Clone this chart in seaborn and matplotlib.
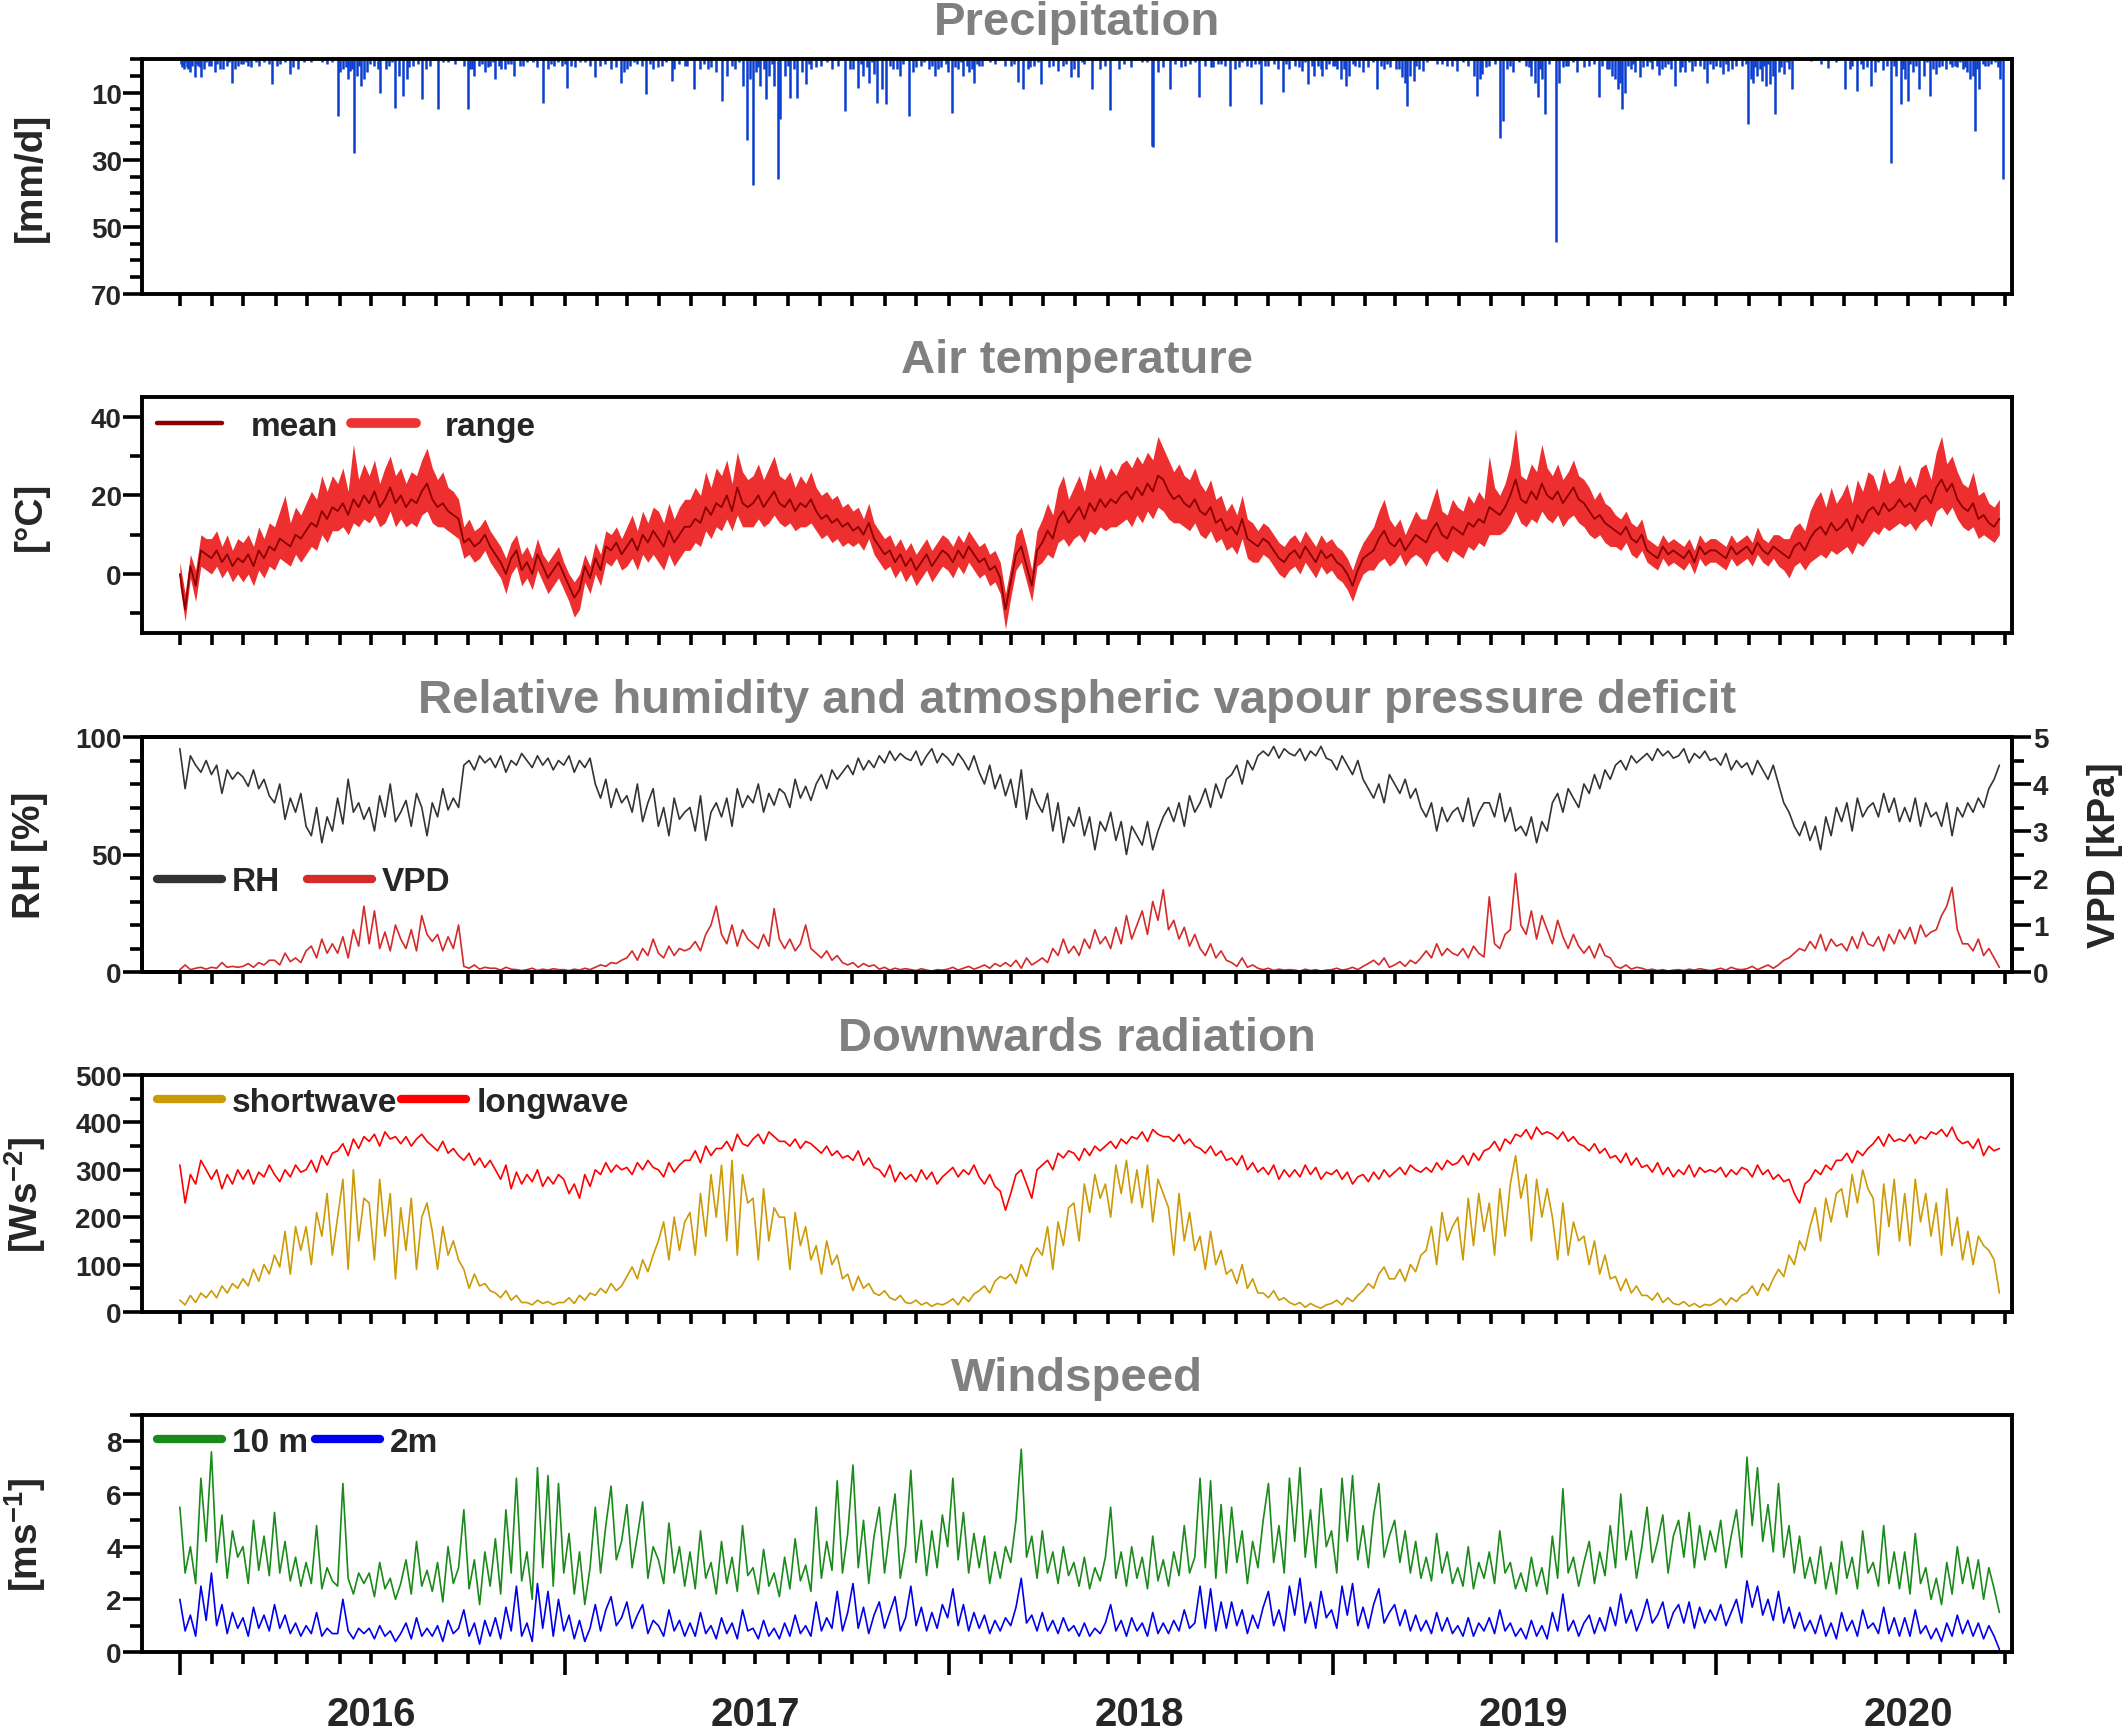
import numpy as np
import pandas as pd
import matplotlib
matplotlib.use("Agg")
import matplotlib.pyplot as plt
import matplotlib.dates as mdates
from matplotlib.lines import Line2D
from matplotlib.ticker import FixedLocator, MultipleLocator, NullFormatter
import seaborn as sns

# ---------------- data (5-day samples from 2016-01-01) ----------------
t_mean = [0,-9,2,-3,6,5, 4,6,3,5,2,4, 3,5,2,6,4,7, 6,9,8,7,10,9, 11,13,12,16,14,17, 16,18,15,19,17,20, 18,21,17,19,22,18, 20,17,19,18,21,23, 19,17,18,16,15,14, 8,9,7,8,10,7, 5,3,0,4,6,1, 3,0,5,2,-1,1,3,
          0,-3,-6,-4,2,-1, 4,1,7,6,8,5, 7,9,6,10,8,11, 9,7,11,8,10,12, 12,14,13,17,15,18, 17,20,16,22,18,17, 18,20,17,19,21,18, 17,19,16,18,17,19, 16,14,15,13,14,12, 13,11,12,10,13,9, 7,5,6,3,5,2, 4,1,3,5,2,4,6,
          5,3,6,4,7,5, 3,4,1,2,-1,-9, -2,5,7,2,-3,6, 8,11,9,14,16,13, 15,17,14,18,16,19, 17,19,18,20,21,19, 22,20,23,21,25,24, 21,19,20,18,17,19, 16,15,17,13,14,11, 12,10,14,9,8,7, 9,8,6,4,3,5, 6,4,7,5,3,6,4,
          5,3,2,0,-3,1, 4,5,6,9,11,8, 7,9,6,8,10,9, 8,11,13,10,9,12, 11,10,13,12,14,13, 17,16,15,17,20,24, 19,18,21,19,23,20, 19,21,18,20,22,19, 18,16,14,15,13,12, 11,10,12,9,8,10, 6,5,4,7,5,6, 5,4,6,3,7,5,6,
          6,5,4,7,5,6, 7,5,8,6,5,7, 6,5,4,7,8,6, 9,11,12,10,13,11, 12,14,11,15,13,16, 17,15,18,16,17,19, 17,18,16,19,20,18, 22,24,21,23,19,17, 16,18,14,15,13,12,14]
t_high = [3,-5,5,1,10,9, 9,11,7,10,6,9, 8,10,7,12,9,13, 12,16,20,13,17,15, 18,21,19,25,21,25, 23,27,21,33,24,28, 25,29,23,27,30,25, 27,23,26,25,29,32, 27,24,26,22,21,19, 12,14,11,12,14,11, 9,7,4,8,10,5, 7,4,9,5,3,5,7,
          3,0,-2,0,5,2, 8,5,11,10,12,9, 12,15,11,16,13,17, 16,13,18,14,17,19, 19,22,20,26,22,27, 25,29,23,31,26,24, 25,28,24,27,30,25, 24,26,22,25,23,26, 22,20,21,19,20,17, 18,16,17,14,18,13, 11,9,10,7,9,6, 8,5,7,9,6,8,10,
          9,7,10,8,11,9, 7,8,5,6,3,-5, 2,10,12,7,1,11, 14,18,15,22,25,19, 22,25,21,27,24,28, 24,27,25,28,29,27, 30,28,31,29,35,32, 29,26,28,25,24,27, 23,21,24,19,20,16, 18,15,20,14,13,11, 13,12,10,8,7,9, 10,8,11,9,7,10,8,
          9,7,6,4,1,5, 8,10,12,16,19,14, 12,14,10,13,16,14, 14,18,22,16,15,19, 17,16,20,18,21,19, 30,22,20,23,28,37, 25,24,28,26,33,27, 25,28,24,26,29,25, 24,22,19,21,18,17, 15,14,16,13,12,14, 9,8,7,10,8,9, 8,7,9,6,10,8,9,
          9,8,7,10,8,9, 10,8,12,9,8,10, 10,9,9,12,13,11, 16,19,21,17,22,18, 20,23,18,24,21,26, 25,21,27,23,24,28, 23,25,22,27,28,24, 31,35,28,30,26,23, 22,26,20,21,18,17,19]
t_low = [-3,-12,-1,-7,2,1, 0,2,-1,1,-2,0, -2,0,-3,1,-1,2, 1,4,3,2,5,3, 5,7,6,10,8,11, 11,12,10,13,12,14, 13,15,12,13,16,12, 14,12,13,12,15,16, 13,12,12,11,10,9, 4,5,3,4,6,3, 1,-1,-5,0,2,-3, -1,-4,1,-2,-5,-3,-1,
         -4,-7,-11,-9,-2,-5, 0,-3,3,2,4,1, 2,4,1,5,3,5, 3,1,5,2,4,6, 6,8,7,11,9,12, 11,14,11,15,12,12, 12,14,12,13,15,13, 12,13,11,12,12,13, 11,9,10,8,9,7, 8,7,8,6,9,5, 3,1,2,-1,1,-2, 0,-3,-1,1,-2,0,2,
         1,-1,2,0,3,1, -1,0,-3,-2,-5,-14, -6,1,3,-2,-7,2, 3,5,4,8,9,7, 9,10,8,11,10,12, 11,12,12,13,14,12, 15,13,16,14,17,16, 14,13,13,12,11,13, 10,9,11,8,9,6, 7,5,9,4,3,3, 5,4,2,0,-1,1, 2,0,3,1,-1,2,0,
         1,-1,-2,-4,-7,-3, 0,1,1,3,4,2, 3,5,2,4,5,4, 2,5,6,4,3,6, 5,4,7,6,8,7, 10,10,10,11,13,16, 13,12,14,13,16,14, 13,15,12,14,15,13, 12,10,9,10,8,7, 7,6,8,5,4,6, 3,2,1,4,2,3, 2,1,3,0,4,2,3,
         3,2,1,4,2,3, 4,2,5,3,2,4, 2,1,-1,2,3,1, 3,4,5,4,6,5, 6,7,5,8,7,9, 11,10,12,11,12,13, 12,13,11,13,14,12, 16,17,15,17,14,12, 11,12,9,10,9,8,10]

rh = [95,78,92,88,85,90, 84,88,76,86,82,85, 83,79,86,78,82,75, 72,80,65,74,68,76, 62,58,70,55,66,60, 74,63,82,68,72,65, 70,60,75,66,80,64, 68,73,62,76,70,58, 72,66,78,69,74,70, 88,90,86,92,89,91, 87,92,85,90,88,93, 90,87,92,88,91,86,90,
      88,92,85,90,87,91, 80,74,82,70,78,72, 75,68,80,64,72,78, 62,70,58,74,65,68, 70,60,75,56,68,72, 66,74,62,78,70,75, 72,80,68,76,71,78, 76,70,82,74,79,73, 80,84,78,86,82,85, 88,84,91,86,90,87, 92,89,94,90,93,91, 90,94,88,92,95,89,93,
      91,88,93,90,86,92, 85,80,88,78,84,75, 82,70,86,65,78,72, 68,76,60,72,55,66, 62,70,58,66,52,64, 60,68,56,64,50,62, 58,54,64,52,60,66, 70,64,72,62,75,68, 72,78,70,80,74,82, 84,88,80,90,86,92, 94,92,96,91,95,93, 92,95,90,94,92,96,91,
      90,86,92,88,84,90, 82,78,74,80,72,84, 80,76,82,74,78,70, 66,72,60,70,64,68, 70,64,74,62,68,72, 72,66,76,64,70,60, 62,58,66,55,64,60, 72,76,68,78,74,70, 80,76,84,78,86,82, 88,90,86,92,89,91, 93,90,95,92,94,91, 92,95,89,93,91,94,90,
      91,88,93,86,90,87, 89,84,90,86,82,88, 80,72,68,62,58,64, 56,62,52,66,58,70, 64,72,60,74,66,70, 72,66,76,68,74,64, 70,64,74,62,72,66, 68,62,72,58,70,66, 72,68,74,70,78,82,88]

vpd = [.05,.15,.05,.08,.1,.06, .1,.08,.2,.1,.12,.1, .12,.18,.1,.2,.15,.25, .25,.15,.4,.22,.3,.2, .45,.55,.3,.7,.4,.6, .4,.75,.3,.9,.55,1.4, .6,1.3,.5,.85,.45,1.0, .7,.5,.9,.45,1.2,.8, .65,.8,.45,.75,.5,1.0, .12,.08,.15,.06,.1,.08, .08,.04,.1,.06,.05,.03, .05,.08,.03,.06,.04,.07,.05,
       .05,.03,.06,.04,.08,.05, .1,.15,.12,.2,.18,.25, .3,.45,.25,.5,.35,.7, .4,.3,.55,.35,.5,.45, .5,.65,.45,.8,1.0,1.4, .8,.6,1.0,.55,.9,.7, .6,.5,.8,.55,1.35,.7, .5,.7,.45,.6,1.0,.5, .4,.3,.45,.25,.35,.2, .15,.2,.1,.18,.12,.15, .06,.1,.04,.08,.05,.07, .05,.03,.07,.04,.02,.05,.04,
       .06,.1,.04,.08,.12,.06, .1,.15,.08,.18,.12,.2, .12,.25,.08,.3,.15,.22, .3,.2,.5,.35,.7,.4, .55,.35,.7,.5,.9,.6, .75,.5,.95,.6,1.2,.7, 1.0,1.3,.8,1.5,1.1,1.75, .9,1.1,.7,.95,.55,.8, .5,.35,.6,.3,.45,.25, .2,.12,.3,.1,.15,.08, .05,.08,.03,.06,.04,.05, .04,.02,.06,.03,.05,.02,.04,
       .05,.08,.04,.06,.1,.05, .12,.18,.25,.15,.3,.1, .15,.22,.12,.25,.18,.3, .45,.3,.6,.35,.5,.4, .35,.5,.3,.55,.4,.32, 1.6,.6,.5,.8,.9,2.1, 1.0,.8,1.3,.7,1.2,.9, .6,1.1,.75,.5,.8,.55, .4,.55,.3,.6,.35,.3, .12,.08,.15,.06,.1,.08, .04,.06,.03,.05,.02,.04, .05,.03,.06,.04,.07,.05,.03,
       .05,.08,.04,.1,.06,.05, .07,.12,.05,.1,.15,.08, .15,.25,.3,.4,.5,.45, .65,.5,.8,.45,.7,.55, .6,.45,.75,.5,.85,.6, .55,.75,.45,.8,.6,.9, .7,.95,.6,1.0,.75,.85, .9,1.2,1.4,1.8,.9,.6, .6,.45,.7,.35,.5,.3,.1]

sw = [25,15,35,20,40,30, 45,30,55,40,60,50, 70,55,90,65,100,80, 120,95,170,80,180,130, 180,100,210,160,250,120, 200,280,90,300,150,240, 230,110,280,160,250,70, 220,130,240,90,200,230, 170,90,180,120,150,110, 90,50,80,55,60,45, 40,30,45,25,35,20, 20,15,25,18,22,15,20,
      20,30,18,35,25,40, 35,50,40,60,45,55, 75,95,70,110,85,120, 150,190,110,200,130,190, 210,120,250,160,290,200, 310,150,320,120,290,230, 240,110,260,150,220,200, 200,90,210,140,180,110, 140,80,150,100,120,70, 80,45,75,50,60,40, 35,45,30,25,35,20, 18,25,15,20,12,18,15,
      20,28,15,32,22,38, 45,55,40,65,75,70, 80,60,100,75,115,135, 120,180,90,190,140,220, 230,150,270,210,290,240, 270,200,310,250,320,230, 300,220,310,190,280,250, 220,120,250,150,210,130, 160,90,170,100,130,80, 90,60,100,50,70,40, 40,30,45,25,30,20, 15,20,10,18,12,8,15,
      18,25,15,30,22,35, 45,60,50,80,95,70, 70,90,65,100,85,120, 130,180,100,210,150,180, 200,110,240,140,250,170, 230,120,260,160,270,330, 240,290,150,280,200,260, 200,110,230,120,190,150, 160,100,150,80,120,70, 75,45,70,40,55,35, 35,25,40,20,30,18, 15,22,12,18,10,16,14,
      20,28,15,30,22,35, 40,55,35,60,45,70, 90,75,120,100,150,130, 180,220,150,240,190,250, 260,200,290,230,300,260, 240,120,270,180,280,150, 250,140,280,190,250,160, 230,120,260,140,200,110, 170,100,160,140,130,110,40]

lw = [310,230,290,270,320,300, 280,300,260,290,270,300, 280,300,270,295,285,310, 290,275,300,285,310,295, 300,320,295,330,310,335, 340,355,330,365,345,370, 360,375,350,380,365,370, 355,370,350,365,375,360, 350,340,360,335,345,330, 320,335,310,325,305,320, 300,280,310,260,295,270, 290,275,300,265,285,270,290,
      280,250,270,240,290,265, 300,290,315,295,310,300, 305,290,315,300,320,305, 300,285,315,295,310,320, 320,340,315,350,330,345, 345,360,340,375,355,350, 365,375,355,380,370,360, 360,350,365,345,360,355, 345,335,350,330,340,325, 330,320,340,310,325,305, 300,285,310,275,295,280, 290,275,300,280,295,270,285,
      295,305,285,300,290,310, 285,270,290,265,255,215, 250,290,300,270,240,300, 310,320,300,335,325,340, 335,320,345,330,350,340, 350,360,345,365,355,370, 365,380,360,385,375,370, 370,360,375,355,365,350, 345,335,350,330,340,320, 325,310,330,300,315,295, 305,290,310,280,300,285, 300,285,310,290,305,280,295,
      290,300,280,295,270,285, 290,275,295,280,300,285, 295,305,290,310,300,295, 305,295,315,300,320,310, 315,330,310,335,320,340, 345,360,340,365,355,375, 370,385,365,390,375,380, 375,365,380,360,370,355, 350,340,355,335,345,325, 330,315,335,310,325,305, 310,295,315,290,305,285, 300,290,310,285,305,295,300,
      295,305,285,300,290,305, 300,285,310,290,300,280, 290,275,280,250,230,270, 280,300,290,310,300,320, 320,335,315,340,330,345, 355,370,350,375,360,365, 360,375,355,370,365,380, 375,385,370,390,365,355, 360,345,365,330,350,340,345]

wind10 = [5.5,3.0,4.0,2.6,6.6,4.2, 7.6,3.4,5.2,2.8,4.6,3.6, 4.0,2.6,5.0,3.1,4.4,2.9, 5.3,3.0,4.2,2.7,3.6,2.5, 3.4,2.6,4.8,2.4,3.2,2.7, 2.5,6.4,2.8,2.2,3.0,2.6, 3.0,2.1,3.4,2.4,2.8,2.0, 2.6,3.5,2.2,4.2,2.5,3.1, 2.3,3.4,1.9,4.0,2.6,3.2, 5.4,2.4,3.5,1.8,3.8,2.5, 4.3,2.2,5.4,3.0,6.6,2.7, 3.8,2.0,7.0,3.2,6.7,2.5,6.4,
          3.0,4.5,2.2,3.8,1.8,3.2, 5.5,3.0,4.8,6.3,3.5,4.2, 5.6,3.2,4.4,5.7,2.8,4.0, 3.5,2.6,4.9,3.0,4.0,2.5, 3.8,2.4,4.6,2.8,3.4,2.2, 4.2,2.6,3.6,2.3,4.8,2.9, 3.2,2.2,3.9,2.5,3.0,2.1, 3.6,2.4,4.3,2.7,3.3,2.3, 5.5,2.8,4.2,3.1,6.5,3.0, 4.5,7.1,3.2,5.0,2.6,4.4, 5.5,3.0,4.6,6.0,2.8,4.0, 6.9,3.4,5.0,2.9,4.6,3.2,5.2,
          4.0,6.6,3.5,5.3,3.0,4.5, 3.2,4.4,2.6,3.8,2.8,4.0, 3.4,5.0,7.7,3.6,4.4,2.8, 4.6,3.0,3.8,2.6,4.0,2.9, 3.4,2.5,3.6,2.4,3.2,2.7, 3.6,5.5,2.8,3.8,2.5,4.0, 2.8,3.6,2.4,4.4,2.7,3.5, 2.5,3.8,2.9,4.8,3.0,3.6, 6.6,3.2,6.5,2.8,5.6,3.0, 5.5,3.4,4.6,2.6,4.2,3.2, 5.0,6.4,3.4,4.8,3.0,6.6, 4.2,7.0,3.6,5.4,3.2,6.2,4.0,
          4.6,3.0,6.6,4.2,6.7,3.5, 4.8,3.2,5.2,6.4,3.6,4.4, 5.0,3.4,4.6,3.0,4.2,2.8, 3.6,2.7,4.5,3.0,3.8,2.6, 3.2,2.5,4.0,2.4,3.4,2.8, 3.8,2.6,4.6,3.0,3.4,2.4, 3.0,2.3,3.6,2.5,3.2,2.2, 4.4,2.8,6.2,3.0,3.6,2.5, 3.4,4.2,2.6,3.8,2.9,4.8, 3.2,6.0,3.5,4.6,2.8,4.0, 5.5,3.4,4.2,5.2,3.0,4.4, 5.0,3.6,5.3,3.2,4.8,3.5,4.6,
          3.8,5.0,3.2,4.4,5.4,3.6, 7.4,4.8,7.0,4.2,5.6,3.8, 6.4,3.6,4.8,3.0,4.4,2.8, 3.6,2.6,4.0,2.4,3.4,2.2, 4.2,2.8,3.6,2.4,4.6,3.0, 3.4,2.5,4.8,2.6,3.8,2.4, 3.8,2.2,4.5,2.6,3.2,2.0, 2.8,1.8,3.4,2.2,4.0,2.6, 3.6,2.4,3.5,2.0,3.2,2.4,1.5]

wind2 = [2.0,0.8,1.4,0.6,2.5,1.2, 3.0,1.0,1.8,0.7,1.5,0.9, 1.3,0.6,1.7,0.9,1.4,0.8, 1.8,0.9,1.4,0.7,1.1,0.6, 1.0,0.7,1.5,0.6,0.9,0.7, 0.7,2.0,0.8,0.5,0.9,0.7, 0.9,0.5,1.0,0.6,0.8,0.4, 0.7,1.1,0.5,1.3,0.6,0.9, 0.6,1.0,0.4,1.2,0.7,0.9, 1.6,0.6,1.1,0.3,1.2,0.6, 1.3,0.5,1.7,0.8,2.5,0.6, 1.1,0.4,2.6,0.9,2.3,0.6,2.0,
         0.8,1.4,0.5,1.2,0.4,0.9, 1.8,0.8,1.6,2.1,1.0,1.3, 1.9,0.9,1.4,1.8,0.7,1.2, 1.0,0.6,1.6,0.8,1.2,0.6, 1.1,0.6,1.5,0.7,1.0,0.5, 1.3,0.7,1.1,0.5,1.6,0.8, 0.9,0.5,1.2,0.6,0.9,0.5, 1.1,0.6,1.4,0.7,1.0,0.6, 1.9,0.8,1.3,0.9,2.3,0.8, 1.5,2.6,0.9,1.7,0.7,1.4, 1.9,0.9,1.5,2.1,0.8,1.3, 2.5,1.0,1.7,0.8,1.5,0.9,1.8,
         1.3,2.4,1.0,1.8,0.8,1.5, 0.9,1.4,0.7,1.2,0.8,1.3, 1.0,1.7,2.8,1.1,1.4,0.8, 1.5,0.8,1.2,0.7,1.3,0.8, 1.0,0.6,1.1,0.6,0.9,0.7, 1.1,1.8,0.8,1.2,0.6,1.3, 0.8,1.1,0.6,1.5,0.7,1.1, 0.7,1.2,0.8,1.6,0.9,1.1, 2.5,0.9,2.4,0.8,1.9,0.9, 1.9,1.0,1.6,0.7,1.4,0.9, 1.7,2.3,1.0,1.6,0.8,2.5, 1.4,2.8,1.1,1.9,0.9,2.3,1.3,
         1.6,0.9,2.5,1.4,2.6,1.0, 1.7,0.9,1.8,2.4,1.1,1.5, 1.8,1.0,1.6,0.8,1.4,0.8, 1.2,0.7,1.5,0.8,1.3,0.7, 1.0,0.6,1.3,0.6,1.1,0.8, 1.3,0.7,1.6,0.8,1.1,0.6, 0.9,0.5,1.2,0.6,1.0,0.5, 1.5,0.8,2.2,0.8,1.2,0.6, 1.1,1.4,0.7,1.3,0.8,1.7, 1.0,2.2,1.1,1.6,0.8,1.3, 2.0,1.1,1.4,1.9,0.9,1.5, 1.8,1.1,1.9,0.9,1.7,1.1,1.6,
         1.2,1.8,1.0,1.5,2.0,1.1, 2.7,1.7,2.5,1.4,2.0,1.2, 2.3,1.1,1.7,0.9,1.5,0.8, 1.2,0.7,1.4,0.6,1.1,0.5, 1.5,0.8,1.2,0.6,1.6,0.9, 1.1,0.7,1.7,0.7,1.3,0.6, 1.3,0.6,1.6,0.7,1.0,0.5, 0.9,0.4,1.1,0.6,1.4,0.7, 1.2,0.6,1.1,0.5,1.0,0.6,0.1]

# daily precipitation events: (day since 2016-01-01, mm)
rain_events = [(4,3),(7,2.5),(10,4),(14,5.5),(17,2),(20,5.5),(23,3),(28,2),(33,4),(38,3),(45,2),(50,7),(52,3),(60,1.5),
               (65,2),(72,1),(75,2),(80,1),(88,7.5),(95,1.5),(105,4.5),(112,3),(118,1),(135,1),(150,17),(152,4),(155,3),
               (160,6),(162,3.5),(166,28),(168,5),(172,8),(175,6),(178,4),(185,2),(190,10),(196,3),(205,14.5),(208,5),
               (212,11),(216,6),(222,2),(230,12),(234,3),(245,15),(255,1),(274,15),(276,3),(280,5),(284,2),(290,4),
               (295,2),(300,6),(305,3),(312,1.5),(318,5),(323,2),(330,1),(345,13),(350,3),(356,2),(360,1),
               (368,8.5),(372,2),(380,1),(395,5.5),(399,2),(410,3),(415,2.5),(419,7),(422,4),(428,2),(435,1.5),(443,10.5),
               (450,3),(458,2),(468,6.5),(470,3),(475,1.5),(482,2),(489,9),(495,3),(505,2.5),(510,4),(515,12.4),(520,5),
               (528,3),(535,8),(539,24),(542,6),(545,37.5),(548,4),(552,8),(557,12),(560,5),(565,8),(569,35.7),(571,18),
               (575,5),(580,11.5),(587,11.6),(592,4),(595,7.4),(600,3),(610,2),(620,3),(632,15.4),(637,3),(645,8.5),
               (650,5),(655,7),(660,4.5),(663,13),(668,9),(671,13.4),(678,3),(685,5),(693,17),(697,4),(705,2),(712,3),
               (718,5),(724,2.5),(730,4),(734,16),(740,3),(745,5),(750,4),(755,7),(760,2),
               (775,1.5),(785,2),(797,6.8),(802,9),(806,3),(812,2),(819,7.4),(826,2.5),(835,3.5),(840,2),(847,5.5),
               (854,5.5),(860,1.5),(867,9),(875,3),(884,15.2),(893,3),(904,2.5),(915,1),(924,25.8),(925,26.3),(930,4),
               (941,9),(952,2.5),(960,1.5),(969,11.4),(975,2),(982,2.5),(990,1.5),(998,14),(1003,3),(1007,2.5),(1015,2),
               (1022,1.5),(1028,13.4),(1035,2),(1040,1.5),(1049,9.7),(1055,3),(1060,2),(1067,3.5),(1073,7.4),(1078,5),
               (1082,2),(1086,5),(1090,3),
               (1096,2),(1100,3),(1104,6),(1109,8.1),(1112,5),(1117,2),(1125,4),(1130,2.5),(1138,9),(1145,3),(1151,2.5),
               (1156,3),(1162,5.5),(1165,7),(1167,14),(1170,5),(1173,6.5),(1178,3),(1182,3.5),(1195,1.5),(1205,2),
               (1214,3.5),(1225,2),(1230,5),(1233,11),(1236,6),(1238,4.5),(1245,2),(1255,23.6),(1258,18.4),(1262,3),
               (1268,3.8),(1280,2),(1285,5),(1288,7),(1291,11.4),(1295,6),(1298,16.4),(1308,54.4),(1311,7),(1315,2.5),
               (1320,2),(1328,3.8),(1340,2),(1349,11.4),(1357,3),(1362,5),(1365,6),(1367,9),(1369,7),(1371,15),(1374,10),
               (1380,3),(1384,4),(1388,5.5),(1395,2),(1400,3),(1406,4.8),(1412,2.5),(1418,3),(1422,8.1),(1426,4),(1431,4),
               (1438,3.5),(1445,2),(1452,7),(1458,3),
               (1467,4.5),(1472,3.5),(1480,2),(1491,19.4),(1494,6),(1496,7),(1500,5),(1504,6.5),(1508,8),(1512,7.5),
               (1515,5),(1517,16.4),(1520,4),(1525,4.5),(1530,3),(1533,9),(1551,0.5),(1567,2.8),(1583,9),(1588,3),
               (1595,9.4),(1600,3),(1608,8),(1612,4),(1619,3.2),(1623,2),(1627,31),(1632,5),(1636,13.4),(1640,6),
               (1643,12.4),(1648,4),(1654,9),(1658,5),(1664,11),(1667,3),(1670,4.5),(1675,2),(1679,3),(1685,2.5),
               (1690,2.5),(1695,3),(1699,4),(1702,6),(1705,5),(1707,21.4),(1711,9),(1716,2),(1722,1.5),(1731,6),(1733,35.6)]

# additional light-rain days (day, mm)
rain_light = [(1,1.5),(2,2.5),(5,1),(8,3),(12,2),(15,1.5),(19,2.5),(25,1),(30,2),(35,1.5),(41,3),(47,1),(55,2),(58,1.5),
              (63,1),(68,2.5),(85,1.5),(92,2),(100,1),(108,2.5),(125,1),(140,1.5),(145,1),(158,2.5),(164,3),(170,2),
              (181,1.5),(188,3),(199,2),(202,1),(218,2.5),(226,1.5),(238,2),(250,1),(262,1.5),(270,2),(278,3),(287,1.5),
              (293,2.5),(298,1),(303,2),(309,3),(315,1.5),(326,2),(336,1),(340,2.5),(353,1.5),(363,2),
              (366,1.5),(376,2.5),(385,1),(390,2),(404,1.5),(425,3),(432,1),(439,2),(447,1.5),(455,2.5),(462,1),(480,2),
              (498,1.5),(502,3),(525,2),(532,1),(550,2.5),(555,3),(563,1.5),(578,2),(584,3),(598,1.5),(605,2.5),(615,1),
              (626,2),(640,3),(648,1.5),(653,2.5),(658,1),(675,2),(682,3),(688,1.5),(700,2.5),(708,1),(715,2),(721,3),
              (728,1.5),(737,2.5),(743,1),(748,2),(753,3),(758,1.5),(763,2),
              (770,1),(790,2),(793,1.5),(808,2.5),(816,1),(830,2),(843,1.5),(850,3),(858,1),(880,2),(898,1.5),(920,1),
              (935,2.5),(946,1.5),(956,2),(965,1),(980,2.5),(987,1.5),(994,2),(1010,1),(1018,2.5),(1026,1.5),(1032,2),
              (1044,3),(1052,1.5),(1064,2.5),(1070,1),(1076,2),(1085,3),(1093,1.5),
              (1098,2),(1107,3),(1115,1.5),(1121,2.5),(1134,1),(1142,2),(1148,1.5),(1159,3),(1175,2),(1186,1),(1200,1.5),
              (1210,2),(1220,1),(1242,2.5),(1250,1.5),(1265,2),(1273,1),(1283,2.5),(1293,3),(1302,1.5),(1318,2),(1325,1),
              (1335,2.5),(1345,1.5),(1352,2),(1359,3),(1377,2),(1382,1.5),(1391,2.5),(1398,1),(1404,2),(1409,3),(1415,1.5),
              (1428,2.5),(1435,1),(1441,2),(1449,3),(1455,1.5),(1461,2),
              (1464,2.5),(1470,1.5),(1476,3),(1485,2),(1489,1.5),(1498,2.5),(1502,3),(1506,2),(1510,1.5),(1522,2.5),
              (1528,1),(1560,1.5),(1575,1),(1590,2),(1598,1.5),(1604,2.5),(1615,1),(1630,2),(1638,3),(1645,1.5),(1651,2),
              (1661,1),(1673,2.5),(1683,1.5),(1688,2),(1693,1),(1697,2.5),(1709,3),(1714,1.5),(1719,2),(1726,1),(1729,2.5)]

titles = ["Precipitation", "Air temperature",
          "Relative humidity and atmospheric vapour pressure deficit",
          "Downwards radiation", "Windspeed"]
years = [2016, 2017, 2018, 2019, 2020]

# ---------------- style ----------------
sns.set_theme(style="ticks")
plt.rcParams['font.family'] = ['Liberation Sans', 'DejaVu Sans']
plt.rcParams['font.weight'] = 'bold'
plt.rcParams['axes.labelweight'] = 'bold'
plt.rcParams['mathtext.fontset'] = 'custom'
plt.rcParams['mathtext.rm'] = 'Liberation Sans:bold'
plt.rcParams['mathtext.bf'] = 'Liberation Sans:bold'
plt.rcParams['mathtext.it'] = 'Liberation Sans:bold'
plt.rcParams['mathtext.default'] = 'bf'

START = pd.Timestamp('2016-01-01')
def dates_for(vals):
    return pd.date_range(START, periods=len(vals), freq='5D')

W, H = 2128, 1731
L, R = 142, 2012
tops = [60, 398, 738, 1076, 1416]
bots = [295, 634, 973, 1313, 1653]

fig = plt.figure(figsize=(W / 100, H / 100), dpi=100)
axes = [fig.add_axes([L / W, 1 - b / H, (R - L) / W, (b - t) / H]) for t, b in zip(tops, bots)]
ax1, ax2, ax3, ax4, ax5 = axes

month_ticks = mdates.date2num(pd.date_range('2016-01-01', '2020-10-01', freq='MS'))
year_ticks = mdates.date2num(pd.date_range('2016-01-01', '2020-01-01', freq='YS'))
XLIM = (mdates.date2num(pd.Timestamp('2015-11-26')), mdates.date2num(pd.Timestamp('2020-10-08')))

SPW = 2.8
TW = 2.6
def style(ax, bottom=False):
    ax.set_xlim(*XLIM)
    for s in ax.spines.values():
        s.set_visible(True)
        s.set_linewidth(SPW)
        s.set_color('black')
    ax.xaxis.set_major_locator(FixedLocator(year_ticks))
    ax.xaxis.set_minor_locator(FixedLocator(month_ticks))
    ax.xaxis.set_major_formatter(NullFormatter())
    ax.xaxis.set_minor_formatter(NullFormatter())
    ax.tick_params(axis='x', which='both', direction='out', width=TW, length=8.5, color='black', bottom=True, top=False)
    if bottom:
        ax.tick_params(axis='x', which='major', length=16.5)
    ax.tick_params(axis='y', which='major', direction='out', width=TW, length=14, labelsize=20, pad=0.5, color='black')
    ax.tick_params(axis='y', which='minor', direction='out', width=TW, length=8.5, color='black', left=True)
    ax.grid(False)
    ax.set_xlabel('')

leg_prop = {'size': 24, 'weight': 'bold'}
def legend(ax, items, y, tpad=0.3, cspace=0.3):
    handles = [Line2D([0], [0], color=c, lw=w, solid_capstyle='round') for _, c, w in items]
    ax.legend(handles, [n for n, _, _ in items], loc='center left', bbox_to_anchor=(0.008, y),
              ncol=len(items), frameon=False, prop=leg_prop, handlelength=1.95,
              handletextpad=tpad, columnspacing=cspace, borderpad=0, borderaxespad=0)

# ---- Panel 1: precipitation ----
all_rain = rain_events + rain_light
rain_dates = [START + pd.Timedelta(days=d) for d, _ in all_rain]
rain_mm = [m for _, m in all_rain]
ax1.vlines(rain_dates, 0, rain_mm, color='#0b3fd0', lw=1.8)
ax1.set_ylim(70, 0)
ax1.yaxis.set_major_locator(FixedLocator([10, 30, 50, 70]))
ax1.yaxis.set_minor_locator(MultipleLocator(5))
style(ax1)
ax1.set_ylabel('[mm/d]', fontsize=28, fontweight='bold')

# ---- Panel 2: air temperature ----
d_t = dates_for(t_mean)
ax2.fill_between(d_t, t_low, t_high, color='#ee2f2f', lw=0)
sns.lineplot(x=d_t, y=t_mean, ax=ax2, color='#8b0000', lw=1.3, estimator=None, legend=False)
ax2.set_ylim(-15, 45)
ax2.yaxis.set_major_locator(FixedLocator([0, 20, 40]))
ax2.yaxis.set_minor_locator(MultipleLocator(10))
style(ax2)
ax2.set_ylabel('[°C]', fontsize=28, fontweight='bold')
legend(ax2, [('mean', '#8b0000', 3.2), ('range', '#ee3333', 7)], 0.877, tpad=0.85, cspace=0.4)

# ---- Panel 3: RH and VPD ----
ax3b = ax3.twinx()
sns.lineplot(x=dates_for(vpd), y=vpd, ax=ax3b, color='#d42a2a', lw=1.2, estimator=None, legend=False)
sns.lineplot(x=dates_for(rh), y=rh, ax=ax3, color='#333333', lw=1.2, estimator=None, legend=False)
ax3.set_ylim(0, 100)
ax3.yaxis.set_major_locator(FixedLocator([0, 50, 100]))
ax3.yaxis.set_minor_locator(MultipleLocator(10))
style(ax3)
ax3.set_ylabel('RH [%]', fontsize=28, fontweight='bold')
ax3b.set_ylim(0, 5)
ax3b.set_xlim(*XLIM)
ax3b.yaxis.set_major_locator(MultipleLocator(1))
ax3b.yaxis.set_minor_locator(MultipleLocator(0.5))
for s in ax3b.spines.values():
    s.set_linewidth(SPW)
    s.set_color('black')
ax3b.tick_params(axis='y', which='major', direction='out', width=TW, length=14, labelsize=20, pad=1, color='black', right=True)
ax3b.tick_params(axis='y', which='minor', direction='out', width=TW, length=8.5, color='black', right=True)
ax3b.grid(False)
ax3b.set_ylabel('VPD [kPa]', fontsize=28, fontweight='bold')
ax3b.yaxis.set_label_coords(1.040, 0.5)
legend(ax3, [('RH', '#333333', 6), ('VPD', '#d42a2a', 6)], 0.383, tpad=0.3, cspace=0.8)

# ---- Panel 4: radiation ----
sns.lineplot(x=dates_for(lw), y=lw, ax=ax4, color='#ff0000', lw=1.2, estimator=None, legend=False)
sns.lineplot(x=dates_for(sw), y=sw, ax=ax4, color='#cc9a06', lw=1.2, estimator=None, legend=False)
ax4.set_ylim(0, 500)
ax4.yaxis.set_major_locator(MultipleLocator(100))
ax4.yaxis.set_minor_locator(MultipleLocator(50))
style(ax4)
ax4.set_ylabel(r'[Ws$^{-2}$]', fontsize=28, fontweight='bold')
legend(ax4, [('shortwave', '#cc9a06', 6), ('longwave', '#ff0000', 6)], 0.886, tpad=0.3, cspace=0.12)

# ---- Panel 5: wind ----
sns.lineplot(x=dates_for(wind10), y=wind10, ax=ax5, color='#1a8a1a', lw=1.2, estimator=None, legend=False)
sns.lineplot(x=dates_for(wind2), y=wind2, ax=ax5, color='#0000ee', lw=1.2, estimator=None, legend=False)
ax5.set_ylim(0, 9)
ax5.yaxis.set_major_locator(MultipleLocator(2))
ax5.yaxis.set_minor_locator(MultipleLocator(1))
style(ax5, bottom=True)
ax5.set_ylabel(r'[ms$^{-1}$]', fontsize=28, fontweight='bold')
legend(ax5, [('10 m', '#1a8a1a', 6), ('2m', '#0000ee', 6)], 0.886, tpad=0.3, cspace=0.2)
for y in years:
    ax5.text(mdates.date2num(pd.Timestamp(f'{y}-07-01')), -0.262, str(y),
             transform=ax5.get_xaxis_transform(), ha='center', va='center',
             fontsize=29, fontweight='bold')

for ax in axes:
    ax.yaxis.set_label_coords(-0.050, 0.5)

# titles: baseline ~27 px above each panel
for t, top in zip(titles, tops):
    fig.text((L + R) / 2 / W, 1 - (top - 25) / H, t, ha='center', va='baseline',
             fontsize=34, fontweight='bold', color='#808080')

fig.savefig('out.png', dpi=100)
